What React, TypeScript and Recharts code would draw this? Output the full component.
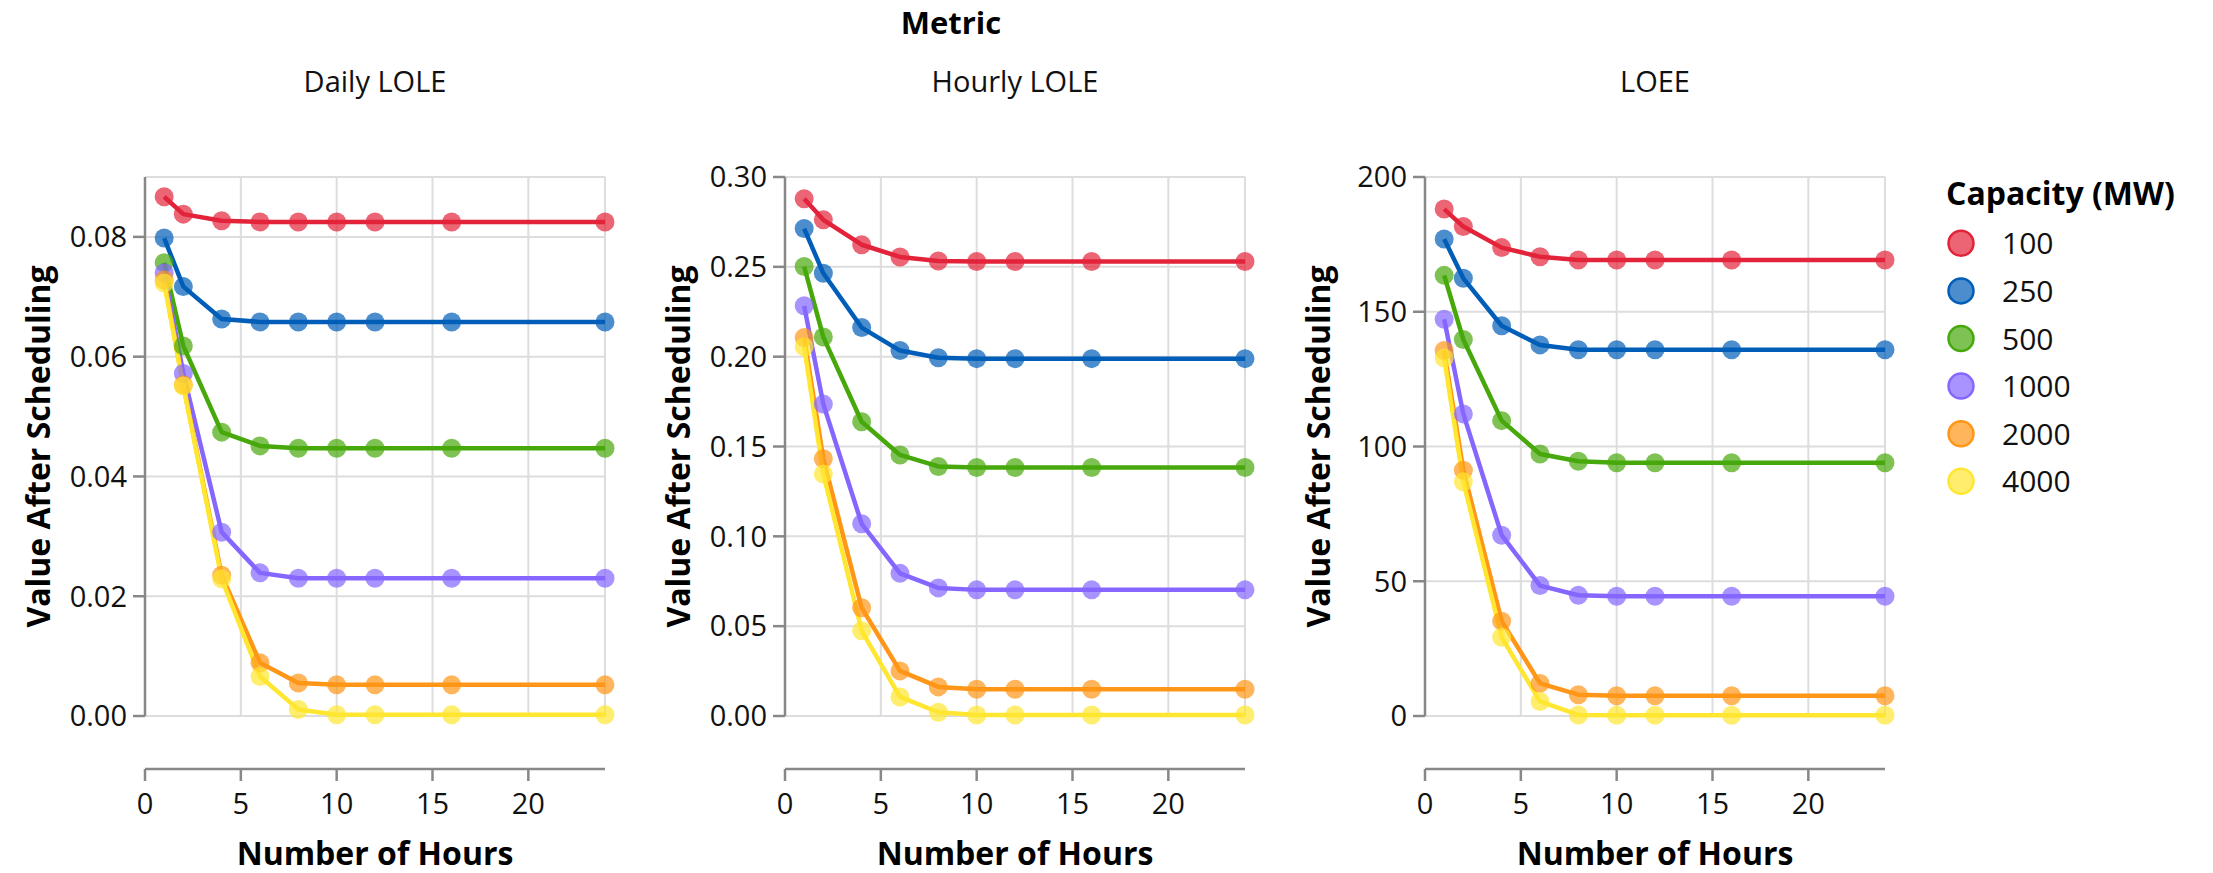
import { LineChart, Line, XAxis, YAxis, CartesianGrid, Legend } from "recharts";

const hours = [1, 2, 4, 6, 8, 10, 12, 16, 24];
const capacities = ["100", "250", "500", "1000", "2000", "4000"];
const colors = ["#e2233a", "#005eb8", "#47a80b", "#8566ff", "#ff9617", "#ffe630"];

// Daily LOLE
const daily100 = [0.0867, 0.0838, 0.0827, 0.0825, 0.0825, 0.0825, 0.0825, 0.0825, 0.0825];
const daily250 = [0.0798, 0.0717, 0.0663, 0.0658, 0.0658, 0.0658, 0.0658, 0.0658, 0.0658];
const daily500 = [0.0757, 0.0618, 0.0474, 0.0451, 0.0447, 0.0447, 0.0447, 0.0447, 0.0447];
const daily1000 = [0.074, 0.0572, 0.0307, 0.0239, 0.023, 0.023, 0.023, 0.023, 0.023];
const daily2000 = [0.0728, 0.0553, 0.0235, 0.0089, 0.0055, 0.0052, 0.0052, 0.0052, 0.0052];
const daily4000 = [0.0723, 0.0551, 0.0229, 0.0066, 0.0011, 0.0002, 0.0002, 0.0002, 0.0002];

// Hourly LOLE
const hourly100 = [0.2879, 0.2762, 0.2623, 0.2555, 0.2532, 0.253, 0.253, 0.253, 0.253];
const hourly250 = [0.2713, 0.2464, 0.2162, 0.2034, 0.1994, 0.1989, 0.1989, 0.1989, 0.1989];
const hourly500 = [0.2502, 0.2109, 0.1638, 0.1453, 0.1389, 0.1383, 0.1383, 0.1383, 0.1383];
const hourly1000 = [0.2283, 0.1736, 0.107, 0.0794, 0.0713, 0.0702, 0.0702, 0.0702, 0.0702];
const hourly2000 = [0.2106, 0.1432, 0.0602, 0.0251, 0.0162, 0.0149, 0.0149, 0.0149, 0.0149];
const hourly4000 = [0.2055, 0.1347, 0.0474, 0.0106, 0.0021, 0.0006, 0.0006, 0.0006, 0.0006];

// LOEE
const loee100 = [188.1, 181.6, 173.8, 170.4, 169.2, 169.2, 169.2, 169.2, 169.2];
const loee250 = [177.0, 162.4, 144.8, 137.7, 135.9, 135.9, 135.9, 135.9, 135.9];
const loee500 = [163.5, 139.7, 109.6, 97.2, 94.5, 94.0, 94.0, 94.0, 94.0];
const loee1000 = [147.2, 112.1, 67.1, 48.4, 44.8, 44.4, 44.4, 44.4, 44.4];
const loee2000 = [135.6, 91.2, 35.2, 12.1, 7.9, 7.5, 7.5, 7.5, 7.5];
const loee4000 = [132.8, 86.9, 29.2, 5.4, 0.4, 0.3, 0.3, 0.3, 0.3];

const xTicks = [0, 5, 10, 15, 20];
const dailyTicks = [0, 0.02, 0.04, 0.06, 0.08];
const hourlyTicks = [0, 0.05, 0.1, 0.15, 0.2, 0.25, 0.3];
const loeeTicks = [0, 50, 100, 150, 200];

const FONT = "'Open Sans', 'DejaVu Sans', sans-serif";
const H = 873;
const TOP = 177;
const AXIS_W = 145;
const PLOT_W = 460;
const X_AXIS_H = 157;
const X_OFFSET = 53;

function buildRows(series: number[][]) {
  return hours.map((h, i) => {
    const row: Record<string, number> = { hours: h };
    capacities.forEach((c, k) => {
      row["c" + c] = series[k][i];
    });
    return row;
  });
}

const XTick = (props: any) => {
  const { x, y, payload } = props;
  return (
    <g>
      <line x1={x} x2={x} y1={y + X_OFFSET} y2={y + X_OFFSET + 12} stroke="#888" strokeWidth={2.5} />
      <text x={x} y={y + 98} textAnchor="middle" fontSize={29} fill="#111" fontFamily={FONT}>
        {payload.value}
      </text>
    </g>
  );
};

const renderLegend = () => (
  <svg width={280} height={360}>
    <text x={16} y={55} fontSize={32} fontWeight={700} fill="#000" fontFamily={FONT}>
      Capacity (MW)
    </text>
    {capacities.map((c, i) => (
      <g key={c}>
        <circle cx={31} cy={93.3 + 47.6 * i} r={12.5} fill={colors[i]} fillOpacity={0.7} stroke={colors[i]} strokeWidth={2.5} />
        <text x={72} y={93.3 + 47.6 * i + 11} fontSize={30} fill="#111" fontFamily={FONT}>
          {c}
        </text>
      </g>
    ))}
  </svg>
);

function Panel({
  series,
  yMax,
  yTicks,
  digits,
  width,
  showLegend,
}: {
  series: number[][];
  yMax: number;
  yTicks: number[];
  digits: number;
  width: number;
  showLegend?: boolean;
}) {
  const data = buildRows(series);
  return (
    <LineChart
      width={width}
      height={H}
      data={data}
      margin={{ top: TOP, right: width - AXIS_W - PLOT_W, bottom: 0, left: 0 }}
    >
      <CartesianGrid
        stroke="#ddd"
        strokeWidth={2}
        horizontalValues={[...yTicks, yMax]}
        verticalValues={[5, 10, 15, 20, 24]}
      />
      <XAxis
        type="number"
        dataKey="hours"
        domain={[0, 24]}
        ticks={xTicks}
        height={X_AXIS_H}
        axisLine={false}
        tickLine={false}
        tickSize={0}
        tickMargin={0}
        tick={<XTick />}
        label={{
          content: (p: any) => {
            const vb = p.viewBox ?? { x: AXIS_W, y: H - X_AXIS_H, width: PLOT_W };
            return (
              <g>
                <line
                  x1={vb.x}
                  x2={vb.x + vb.width}
                  y1={vb.y + X_OFFSET}
                  y2={vb.y + X_OFFSET}
                  stroke="#888"
                  strokeWidth={2.5}
                />
                <text
                  x={vb.x + vb.width / 2}
                  y={vb.y + 149}
                  textAnchor="middle"
                  fontSize={32}
                  fontWeight={700}
                  fill="#000"
                  fontFamily={FONT}
                >
                  Number of Hours
                </text>
              </g>
            );
          },
        }}
      />
      <YAxis
        type="number"
        domain={[0, yMax]}
        ticks={yTicks}
        width={AXIS_W}
        stroke="#888"
        strokeWidth={2.5}
        tickSize={12}
        tickMargin={6}
        tickFormatter={(v: number) => v.toFixed(digits)}
        tick={{ fontSize: 29, fill: "#111", fontFamily: FONT }}
        label={{
          content: (p: any) => {
            const vb = p.viewBox ?? { x: 0, y: TOP, height: H - TOP - X_AXIS_H };
            return (
              <text
                transform={`translate(${vb.x + 37}, ${vb.y + vb.height / 2}) rotate(-90)`}
                textAnchor="middle"
                dominantBaseline="central"
                fontSize={32}
                fontWeight={700}
                fill="#000"
                fontFamily={FONT}
              >
                Value After Scheduling
              </text>
            );
          },
        }}
      />
      {capacities.map((c, i) => (
        <Line
          key={"dot" + c}
          dataKey={"c" + c}
          type="linear"
          stroke="none"
          dot={{ r: 9.5, fill: colors[i], fillOpacity: 0.7, stroke: "none" }}
          activeDot={false}
          legendType="none"
          isAnimationActive={false}
        />
      ))}
      {capacities.map((c, i) => (
        <Line
          key={"line" + c}
          dataKey={"c" + c}
          name={c}
          type="linear"
          stroke={colors[i]}
          strokeWidth={4.5}
          strokeLinejoin="round"
          dot={false}
          activeDot={false}
          isAnimationActive={false}
        />
      ))}
      {showLegend && (
        <Legend
          layout="vertical"
          align="center"
          verticalAlign="middle"
          wrapperStyle={{ left: 650, top: 150, width: 280 }}
          content={renderLegend}
        />
      )}
    </LineChart>
  );
}

const subtitle = (text: string, cx: number) => (
  <div
    style={{
      position: "absolute",
      left: cx - 200,
      top: 61,
      width: 400,
      lineHeight: "40px",
      textAlign: "center",
      fontSize: 29,
      color: "#111",
    }}
  >
    {text}
  </div>
);

export default function App() {
  return (
    <div style={{ position: "relative", width: 2213, height: H, background: "#fff", fontFamily: FONT }}>
      <style>{"body{margin:0}"}</style>
      <div
        style={{
          position: "absolute",
          left: 751,
          top: 2,
          width: 400,
          lineHeight: "40px",
          textAlign: "center",
          fontSize: 31,
          fontWeight: 700,
          color: "#000",
        }}
      >
        Metric
      </div>
      {subtitle("Daily LOLE", 375)}
      {subtitle("Hourly LOLE", 1015)}
      {subtitle("LOEE", 1655)}
      <div style={{ position: "absolute", left: 0, top: 0 }}>
        <Panel
          series={[daily100, daily250, daily500, daily1000, daily2000, daily4000]}
          yMax={0.09}
          yTicks={dailyTicks}
          digits={2}
          width={640}
        />
      </div>
      <div style={{ position: "absolute", left: 640, top: 0 }}>
        <Panel
          series={[hourly100, hourly250, hourly500, hourly1000, hourly2000, hourly4000]}
          yMax={0.3}
          yTicks={hourlyTicks}
          digits={2}
          width={640}
        />
      </div>
      <div style={{ position: "absolute", left: 1280, top: 0 }}>
        <Panel
          series={[loee100, loee250, loee500, loee1000, loee2000, loee4000]}
          yMax={200}
          yTicks={loeeTicks}
          digits={0}
          width={933}
          showLegend
        />
      </div>
    </div>
  );
}
